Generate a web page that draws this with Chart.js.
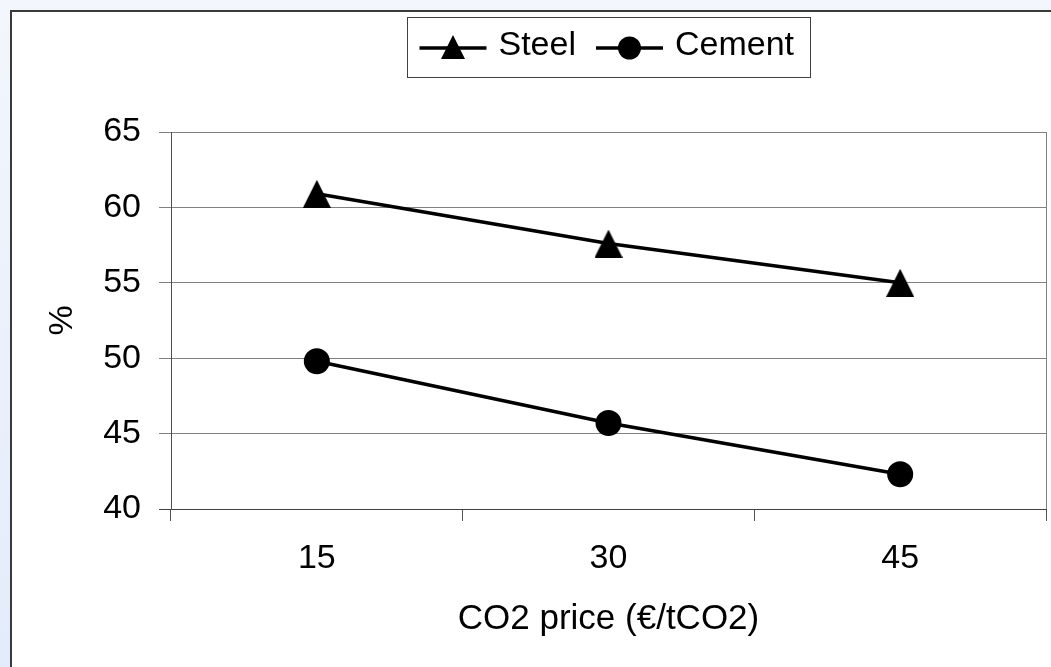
<!DOCTYPE html>
<html>
<head>
<meta charset="utf-8">
<script src="https://cdn.jsdelivr.net/npm/chart.js@4.4.1/dist/chart.umd.min.js"></script>
<style>
  html, body { margin: 0; padding: 0; width: 1051px; height: 667px; overflow: hidden;
    background: linear-gradient(#f3f6fc, #e3ecfb); }
  #frame { position: absolute; left: 10px; top: 10px; width: 1100px; height: 720px;
    border-left: 2px solid #3a3a3a; border-top: 2px solid #3a3a3a; background: #fff; }
  #wrap { position: absolute; left: 0; top: 0; width: 1051px; height: 667px; }
</style>
</head>
<body>
<div id="frame"></div>
<div id="wrap"><canvas id="c" width="1051" height="667"></canvas></div>
<script>
// CO2 price levels (€/tCO2) and the share (%) for each sector
const categories = ['15', '30', '45'];
const steel = [60.9, 57.6, 55.0];
const cement = [49.8, 45.7, 42.3];
const seriesNames = ['Steel', 'Cement'];
const yMin = 40, yMax = 65, yStep = 5;
const xTitle = 'CO2 price (€/tCO2)';
const yTitle = '%';

const FONT = '"Liberation Sans", Arial, Helvetica, sans-serif';
const FS = 34;

// filled triangle marker, centred on its bounding box
function triangleMarker(size) {
  const c = document.createElement('canvas');
  c.width = size; c.height = size;
  const g = c.getContext('2d');
  g.fillStyle = '#000';
  g.beginPath();
  g.moveTo(size / 2, 0);
  g.lineTo(size, size);
  g.lineTo(0, size);
  g.closePath();
  g.fill();
  return c;
}
const tri = triangleMarker(28);
const triSmall = triangleMarker(24);

// thin border on the right edge of the plot area
const rightEdge = {
  id: 'rightEdge',
  afterDraw(chart) {
    const { ctx, chartArea: a } = chart;
    ctx.save();
    ctx.strokeStyle = '#808080';
    ctx.lineWidth = 1;
    ctx.beginPath();
    ctx.moveTo(Math.round(a.right) + 0.5, a.top);
    ctx.lineTo(Math.round(a.right) + 0.5, a.bottom);
    ctx.stroke();
    ctx.restore();
  }
};

// boxed legend with line-and-marker samples, centred over the plot area
const boxedLegend = {
  id: 'boxedLegend',
  afterDraw(chart) {
    const { ctx, chartArea: a } = chart;
    ctx.save();
    ctx.font = FS + 'px ' + FONT;
    const sample = 67, textGap = 12, itemGap = 20, padL = 12, padR = 16;
    const items = chart.data.datasets.map(ds => ({ ds, w: ctx.measureText(ds.label).width }));
    let total = padL + padR;
    items.forEach((it, i) => { total += sample + textGap + it.w + (i ? itemGap : 0); });
    const top = 17, h = 60, cy = top + h / 2 + 1;
    let x = Math.round((a.left + a.right) / 2 - total / 2) + 0.5;
    ctx.strokeStyle = '#404040';
    ctx.lineWidth = 1;
    ctx.strokeRect(x, top + 0.5, Math.round(total), h);
    x += padL;
    items.forEach((it, i) => {
      if (i) x += itemGap;
      ctx.strokeStyle = '#000';
      ctx.lineWidth = 3.5;
      ctx.beginPath();
      ctx.moveTo(x, cy); ctx.lineTo(x + sample, cy);
      ctx.stroke();
      const mx = x + sample / 2;
      if (it.ds.pointStyle === 'circle') {
        ctx.fillStyle = '#000';
        ctx.beginPath(); ctx.arc(mx, cy, 11.5, 0, Math.PI * 2); ctx.fill();
      } else {
        ctx.drawImage(triSmall, mx - triSmall.width / 2, cy - triSmall.height / 2 - 1);
      }
      x += sample + textGap;
      ctx.fillStyle = '#000';
      ctx.textBaseline = 'middle';
      ctx.textAlign = 'left';
      ctx.fillText(it.ds.label, x, cy - 2);
      x += it.w;
    });
    ctx.restore();
  }
};

new Chart(document.getElementById('c'), {
  type: 'line',
  data: {
    labels: categories,
    datasets: [
      { label: seriesNames[0], data: steel, borderColor: '#000', borderWidth: 3.5,
        pointStyle: tri, pointRadius: 14, backgroundColor: '#000', pointBorderWidth: 0 },
      { label: seriesNames[1], data: cement, borderColor: '#000', borderWidth: 3.5,
        pointStyle: 'circle', pointRadius: 13, backgroundColor: '#000', pointBorderWidth: 0 }
    ]
  },
  options: {
    responsive: false,
    animation: false,
    devicePixelRatio: 1,
    events: [],
    layout: { autoPadding: false, padding: { top: 132, right: 5, left: 0, bottom: 0 } },
    plugins: { legend: { display: false }, tooltip: { enabled: false } },
    scales: {
      x: {
        offset: true,
        afterFit(s) { s.height = 158; s.paddingLeft = 0; s.paddingRight = 0; },
        grid: { offset: true, drawOnChartArea: false, drawTicks: true, tickLength: 12, color: '#555', lineWidth: 1 },
        border: { color: '#404040', width: 1 },
        ticks: { color: '#000', font: { family: FONT, size: FS }, padding: 17, maxRotation: 0 },
        title: { display: true, text: xTitle, color: '#000', font: { family: FONT, size: 35 }, padding: { top: 0, bottom: 27 } }
      },
      y: {
        min: yMin, max: yMax,
        afterFit(s) { s.width = 171; s.paddingTop = 0; s.paddingBottom = 0; },
        grid: { drawTicks: true, tickLength: 12, lineWidth: 1,
          color: c => c.tick && c.tick.value === yMin ? '#404040' : '#808080' },
        border: { color: '#505050', width: 1 },
        ticks: { stepSize: yStep, color: '#000', font: { family: FONT, size: FS }, padding: 18 },
        title: { display: true, text: yTitle, color: '#000', font: { family: FONT, size: FS }, padding: { top: 42, bottom: 0 } }
      }
    }
  },
  plugins: [rightEdge, boxedLegend]
});
</script>
</body>
</html>
